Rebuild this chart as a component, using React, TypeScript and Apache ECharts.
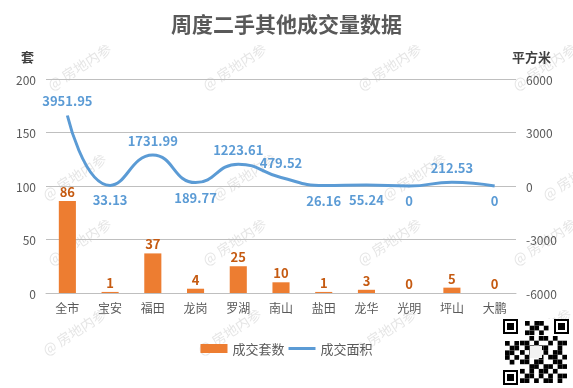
import React, { useEffect, useRef } from "react";
import * as echarts from "echarts";

const categories = ["全市", "宝安", "福田", "龙岗", "罗湖", "南山", "盐田", "龙华", "光明", "坪山", "大鹏"];
const units = [86, 1, 37, 4, 25, 10, 1, 3, 0, 5, 0];
const areas = [3951.95, 33.13, 1731.99, 189.77, 1223.61, 479.52, 26.16, 55.24, 0, 212.53, 0];
const areaLabelPos = ["top", "bottom", "top", "bottom", "top", "top", "bottom", "bottom", "bottom", "top", "bottom"];

const FONT = "'Noto Sans CJK SC', 'Noto Sans', sans-serif";

export default function App() {
  const ref = useRef<HTMLDivElement>(null);
  useEffect(() => {
    const chart = echarts.init(ref.current!, null, { renderer: "svg" });
    const wm: any[] = [];
    const wmPos = [
      [45, 80], [200, 80], [355, 80], [510, 80],
      [40, 190], [210, 190], [380, 190], [540, 190],
      [45, 255], [200, 255], [355, 255], [510, 255],
      [40, 345], [195, 345], [350, 345], [505, 345],
    ];
    wmPos.forEach(([x, y]) => {
      wm.push({
        type: "text", x, y, rotation: Math.PI / 5.5, silent: true, z: 0,
        style: { text: "@ 房地内参", fill: "rgba(190,190,190,0.4)", font: `14px ${FONT}` },
      });
    });
    const qr: any[] = [];
    const qx = 503, qy = 319, qs = 66;
    qr.push({ type: "rect", shape: { x: qx, y: qy, width: qs, height: qs }, style: { fill: "#fff" } });
    const finder = (x: number, y: number) => [
      { type: "rect", shape: { x, y, width: 15, height: 15 }, style: { fill: "#000" } },
      { type: "rect", shape: { x: x + 2, y: y + 2, width: 11, height: 11 }, style: { fill: "#fff" } },
      { type: "rect", shape: { x: x + 4, y: y + 4, width: 7, height: 7 }, style: { fill: "#000" } },
    ];
    qr.push(...finder(qx, qy), ...finder(qx + qs - 15, qy), ...finder(qx, qy + qs - 15));
    const pattern = [
      "0010110100", "1101001011", "0110110010", "1011010110", "0100101101",
      "1101100110", "0011011011", "1010110100", "0110101011", "1101011010",
    ];
    pattern.forEach((row, r) => {
      row.split("").forEach((c, k) => {
        const x = qx + 17 + k * 4.7;
        const y = qy + 17 + r * 4.7;
        if (c === "1") qr.push({ type: "rect", shape: { x, y, width: 4.7, height: 4.7 }, style: { fill: "#000" } });
      });
    });
    ["10110", "01101", "11010"].forEach((row, r) => {
      row.split("").forEach((c, k) => {
        if (c === "1") {
          qr.push({ type: "rect", shape: { x: qx + 17 + k * 4.7 + 5, y: qy + 2 + r * 4.7, width: 4.7, height: 4.7 }, style: { fill: "#000" } });
          qr.push({ type: "rect", shape: { x: qx + 2 + r * 4.7, y: qy + 17 + k * 4.7 + 5, width: 4.7, height: 4.7 }, style: { fill: "#000" } });
        }
      });
    });
    qr.push({ type: "rect", shape: { x: qx + 27, y: qy + 27, width: 12, height: 12 }, style: { fill: "#f2f2f2" } });

    chart.setOption({
      animation: false,
      textStyle: { fontFamily: FONT },
      title: {
        text: "周度二手其他成交量数据",
        left: "center",
        top: 7,
        textStyle: { fontSize: 21, fontWeight: "bold", color: "#595959", fontFamily: FONT },
      },
      grid: { left: 46, right: 57, top: 79, bottom: 95 },
      legend: {
        top: 337,
        left: "center",
        itemGap: 4,
        itemWidth: 27,
        itemHeight: 9,
        textStyle: { fontSize: 13, color: "#595959", fontFamily: FONT },
        data: [
          { name: "成交套数", icon: "rect" },
          { name: "成交面积", icon: "path://M0,0H27V3H0Z" },
        ],
      },
      xAxis: {
        type: "category",
        data: categories,
        axisTick: { show: false },
        axisLine: { lineStyle: { color: "#bfbfbf" } },
        axisLabel: { color: "#595959", fontSize: 12, margin: 8, fontFamily: FONT },
      },
      yAxis: [
        {
          type: "value",
          name: "套",
          min: 0, max: 200, interval: 50,
          nameGap: 16,
          nameTextStyle: { color: "#404040", fontSize: 13, fontWeight: "bold", align: "right", padding: [0, 12, 0, 0] },
          axisLabel: { color: "#595959", fontSize: 12, margin: 10 },
          splitLine: { lineStyle: { color: "#bfbfbf" } },
          axisLine: { show: false },
          axisTick: { show: false },
        },
        {
          type: "value",
          name: "平方米",
          min: -6000, max: 6000, interval: 3000,
          nameGap: 16,
          nameTextStyle: { color: "#404040", fontSize: 13, fontWeight: "bold", align: "left", padding: [0, 0, 0, -4] },
          axisLabel: { color: "#595959", fontSize: 12, margin: 10, formatter: (v: number) => String(v) },
          splitLine: { show: false },
          axisLine: { show: false },
          axisTick: { show: false },
        },
      ],
      graphic: [...wm, ...qr],
      series: [
        {
          name: "成交套数",
          type: "bar",
          data: units,
          barWidth: "40%",
          itemStyle: { color: "#ed7d31" },
          label: {
            show: true, position: "top", distance: 3,
            color: "#c55a11", fontSize: 13, fontWeight: "bold", fontFamily: FONT,
          },
        },
        {
          name: "成交面积",
          type: "line",
          yAxisIndex: 1,
          smooth: 0.5,
          symbol: "none",
          lineStyle: { color: "#5b9bd5", width: 3 },
          itemStyle: { color: "#5b9bd5" },
          data: areas.map((v, i) => ({
            value: v,
            symbol: "circle",
            symbolSize: 0.1,
            label: {
              show: true,
              position: areaLabelPos[i],
              distance: 8,
              color: "#5b9bd5",
              fontSize: 13,
              fontWeight: "bold",
              fontFamily: FONT,
            },
          })),
        },
      ],
    });
    return () => chart.dispose();
  }, []);
  return <div ref={ref} style={{ position: "fixed", left: 0, top: 0, width: 573, height: 388 }} />;
}
